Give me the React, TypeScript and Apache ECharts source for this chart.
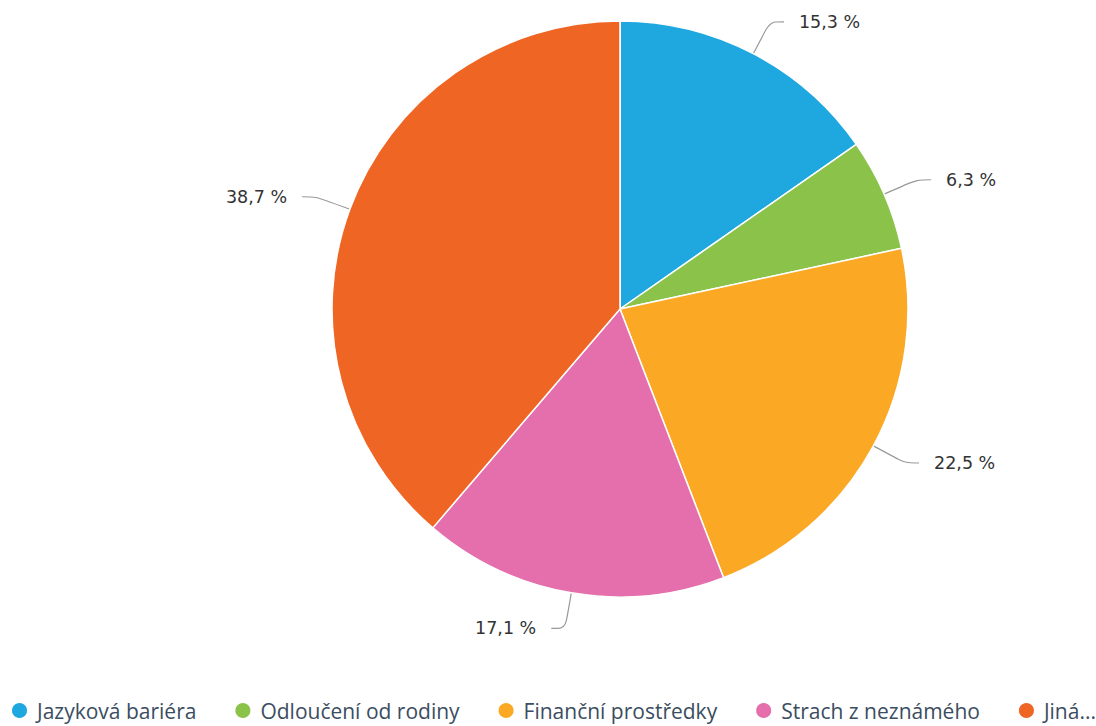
import React, { useEffect, useRef } from "react";
import * as echarts from "echarts";

const categories = ["Jazyková bariéra", "Odloučení od rodiny", "Finanční prostředky", "Strach z neznámého", "Jiná..."];
const values = [15.3, 6.3, 22.5, 17.1, 38.7];
const colors = ["#1fa8e0", "#8bc34a", "#fba925", "#e56fad", "#ef6624"];

export default function App() {
  const ref = useRef<HTMLDivElement>(null);
  useEffect(() => {
    const chart = echarts.init(ref.current!, null, { renderer: "svg" });
    chart.setOption({
      animation: false,
      color: colors,
      legend: {
        left: 10,
        top: 700,
        width: 1200,
        padding: 0,
        icon: "circle",
        itemWidth: 17,
        itemHeight: 17,
        itemGap: 37,
        textStyle: {
          fontFamily: "Open Sans",
          fontSize: 21,
          color: "#3b4d61",
          padding: [0, 0, 0, 4],
        },
      },
      series: [
        {
          type: "pie",
          center: [620, 309],
          radius: 288,
          startAngle: 90,
          clockwise: true,
          itemStyle: { borderColor: "#fff", borderWidth: 1.5 },
          label: {
            formatter: (p: any) => p.value.toFixed(1).replace(".", ",") + " %",
            fontFamily: "DejaVu Sans",
            fontSize: 17.5,
            color: "#333",
            distanceToLabelLine: 15,
          },
          labelLine: {
            length: 36,
            length2: 14,
            smooth: 0.3,
            lineStyle: { color: "#999", width: 1.2 },
          },
          data: categories.map((c, i) => ({ name: c, value: values[i] })),
        },
      ],
    });
    return () => chart.dispose();
  }, []);
  return <div ref={ref} style={{ width: 1096, height: 726, position: "absolute", left: 0, top: 0 }} />;
}
